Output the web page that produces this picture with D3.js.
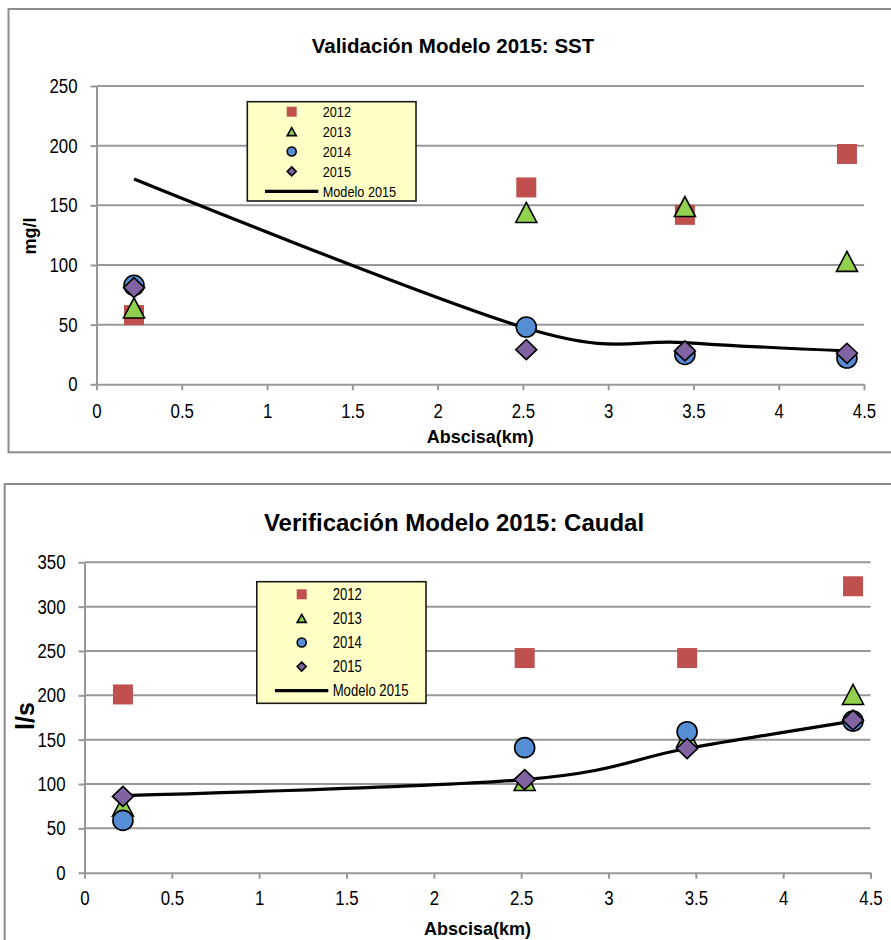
<!DOCTYPE html>
<html>
<head>
<meta charset="utf-8">
<script src="https://cdn.jsdelivr.net/npm/d3@7"></script>
<style>
  body { margin: 0; background: #ffffff; }
  svg { display: block; }
</style>
</head>
<body>
<svg id="fig" width="891" height="940"></svg>
<script>
// ---- data ---------------------------------------------------------------
const abscisa = [0.22, 2.52, 3.45, 4.40];          // km
const years = ["2012", "2013", "2014", "2015"];
const modelLabel = "Modelo 2015";
const xTicks = [0, 0.5, 1, 1.5, 2, 2.5, 3, 3.5, 4, 4.5];

// SST (mg/l)
const sst2012 = [58, 165, 142, 193];
const sst2013 = [64, 144, 149, 103];
const sst2014 = [83, 48, 25, 22];
const sst2015 = [81, 29, 28, 26];
const sstModelo = [172, 47, 35, 28];
const sstTicks = [0, 50, 100, 150, 200, 250];

// Caudal (l/s)
const caudal2012 = [201, 242, 242, 323];
const caudal2013 = [75, 104, 153, 201];
const caudal2014 = [59, 141, 159, 171];
const caudal2015 = [86, 105, 140, 172];
const caudalModelo = [87, 105, 140, 171];
const caudalTicks = [0, 50, 100, 150, 200, 250, 300, 350];

// ---- styles -------------------------------------------------------------
const NARROW = "'Liberation Sans Narrow','Arial Narrow','Liberation Sans',Arial,sans-serif";
const SANS = "'Liberation Sans',Arial,Helvetica,sans-serif";
const NARROW_K = 0.82;   // narrow face width relative to the regular face
const GRID = "#989898";
const FRAME = "#8c8c8c";
const seriesStyle = [
  { shape: "square",   fill: "#C0504D", stroke: "none" },
  { shape: "triangle", fill: "#92D050", stroke: "#000" },
  { shape: "circle",   fill: "#558ED5", stroke: "#000" },
  { shape: "diamond",  fill: "#8064A2", stroke: "#000" }
];

// condense text horizontally when no narrow face is installed
function narrow(sel) {
  sel.each(function () {
    const w = this.getComputedTextLength();
    const probe = document.createElementNS("http://www.w3.org/2000/svg", "text");
    probe.setAttribute("font-family", "'Liberation Sans'");
    probe.setAttribute("font-size", this.getAttribute("font-size") || "16");
    probe.textContent = this.textContent;
    this.parentNode.appendChild(probe);
    const wRegular = probe.getComputedTextLength();
    probe.remove();
    // if the rendered width equals the regular face, the narrow face is missing
    if (Math.abs(w - wRegular) < 0.5) {
      d3.select(this).attr("textLength", w * NARROW_K).attr("lengthAdjust", "spacingAndGlyphs");
    }
  });
}

// marker outline centred on (0,0), w x h box
function markerPath(shape, w, h) {
  const a = w / 2, b = h / 2;
  switch (shape) {
    case "square":   return `M${-a},${-b}H${a}V${b}H${-a}Z`;
    case "triangle": return `M0,${-b}L${a},${b}L${-a},${b}Z`;
    case "diamond":  return `M0,${-b}L${a},0L0,${b}L${-a},0Z`;
    default: {
      const p = d3.path(); p.arc(0, 0, a, 0, 2 * Math.PI); return p.toString();
    }
  }
}

const svg = d3.select("#fig");

function drawChart(cfg) {
  const g = svg.append("g");

  // outer frame
  g.append("rect")
    .attr("x", cfg.frame[0]).attr("y", cfg.frame[1])
    .attr("width", cfg.frame[2]).attr("height", cfg.frame[3])
    .attr("fill", "#fff").attr("stroke", FRAME).attr("stroke-width", 2);

  const x = d3.scaleLinear().domain([0, 4.5]).range([cfg.left, cfg.right]);
  const y = d3.scaleLinear().domain([0, cfg.ymax]).range([cfg.bottom, cfg.top]);

  // horizontal gridlines
  g.append("g").selectAll("line").data(cfg.yTicks.filter(d => d > 0)).join("line")
    .attr("x1", cfg.left).attr("x2", cfg.right)
    .attr("y1", d => y(d)).attr("y2", d => y(d))
    .attr("stroke", GRID).attr("stroke-width", 2);

  // axes
  const yAxis = g.append("g").attr("transform", `translate(${cfg.left},0)`)
    .call(d3.axisLeft(y).tickValues(cfg.yTicks).tickSize(6).tickSizeOuter(0).tickPadding(13)
      .tickFormat(d3.format("d")));
  const xAxis = g.append("g").attr("transform", `translate(0,${cfg.bottom})`)
    .call(d3.axisBottom(x).tickValues(xTicks).tickSize(6).tickSizeOuter(0).tickPadding(cfg.xPad)
      .tickFormat(d => String(d)));
  [yAxis, xAxis].forEach(a => {
    a.select(".domain").attr("stroke", GRID).attr("stroke-width", 2);
    a.selectAll(".tick line").attr("stroke", GRID).attr("stroke-width", 2);
    a.selectAll(".tick text").attr("fill", "#000")
      .attr("font-family", NARROW).attr("font-size", cfg.tickFont)
      .call(narrow);
  });

  // model line (smoothed)
  const line = d3.line().x(d => x(d[0])).y(d => y(d[1])).curve(d3.curveCardinal.tension(0));
  g.append("path")
    .datum(abscisa.map((a, i) => [a, cfg.model[i]]))
    .attr("d", line).attr("fill", "none")
    .attr("stroke", "#000").attr("stroke-width", 3.2).attr("stroke-linejoin", "round");

  // measured series
  cfg.series.forEach((vals, si) => {
    const st = seriesStyle[si];
    const w = st.shape === "square" || st.shape === "circle" ? 20 : 21;
    const h = 20;
    g.append("g").selectAll("path").data(abscisa.map((a, i) => [a, vals[i]])).join("path")
      .attr("transform", d => `translate(${x(d[0])},${y(d[1])})`)
      .attr("d", markerPath(st.shape, w, h))
      .attr("fill", st.fill).attr("stroke", st.stroke).attr("stroke-width", 1.6)
      .attr("stroke-linejoin", "miter");
  });

  // titles
  g.append("text").attr("x", cfg.titlePos[0]).attr("y", cfg.titlePos[1])
    .attr("text-anchor", "middle").attr("font-family", SANS).attr("font-weight", "bold")
    .attr("font-size", cfg.titleFont).text(cfg.title);
  g.append("text").attr("x", (cfg.left + cfg.right) / 2).attr("y", cfg.xLabelY)
    .attr("text-anchor", "middle").attr("font-family", SANS).attr("font-weight", "bold")
    .attr("font-size", cfg.xLabelFont).text("Abscisa(km)");
  g.append("text")
    .attr("transform", `translate(${cfg.yLabelPos[0]},${cfg.yLabelPos[1]}) rotate(-90)`)
    .attr("text-anchor", "middle").attr("font-family", SANS).attr("font-weight", "bold")
    .attr("font-size", cfg.yLabelFont).text(cfg.yLabel);

  // legend
  const L = cfg.legend;
  const lg = g.append("g").attr("transform", `translate(${L.x},${L.y})`);
  lg.append("rect").attr("width", L.w).attr("height", L.h)
    .attr("fill", "#FFFFC6").attr("stroke", "#1a1a1a").attr("stroke-width", 1.6);
  const labels = years.concat([modelLabel]);
  labels.forEach((lab, i) => {
    const cy = L.row0 + i * L.step;
    if (i < 4) {
      const st = seriesStyle[i];
      const mw = st.shape === "square" ? 10 : 9;
      const mh = st.shape === "square" ? 10 : (st.shape === "triangle" ? 8 : 9);
      lg.append("path").attr("transform", `translate(${L.mx},${cy})`)
        .attr("d", markerPath(st.shape, mw, mh))
        .attr("fill", st.fill).attr("stroke", st.stroke).attr("stroke-width", 1.6);
    } else {
      lg.append("line").attr("x1", L.lx0).attr("x2", L.lx1).attr("y1", cy).attr("y2", cy)
        .attr("stroke", "#000").attr("stroke-width", 3.2);
    }
    lg.append("text").attr("x", L.tx).attr("y", cy).attr("dy", "0.36em")
      .attr("font-family", NARROW).attr("font-size", L.font).text(lab)
      .call(narrow);
  });
}

drawChart({
  frame: [8.5, 9, 900, 443.3],
  left: 96.5, right: 864, top: 86, bottom: 384.3, ymax: 250,
  yTicks: sstTicks, xPad: 13, tickFont: 20.5,
  model: sstModelo, series: [sst2012, sst2013, sst2014, sst2015],
  title: "Validación Modelo 2015: SST", titlePos: [453, 53.3], titleFont: 20.5,
  xLabelY: 443, xLabelFont: 18,
  yLabel: "mg/l", yLabelPos: [36, 236], yLabelFont: 18,
  legend: { x: 247.3, y: 101.7, w: 168.7, h: 99.3, row0: 10, step: 19.9,
            mx: 44.4, tx: 75.4, lx0: 17.7, lx1: 71, font: 15.5 }
});

drawChart({
  frame: [4.7, 484, 900, 500],
  left: 84.5, right: 870.5, top: 562.3, bottom: 872.7, ymax: 350,
  yTicks: caudalTicks, xPad: 12, tickFont: 20.5,
  model: caudalModelo, series: [caudal2012, caudal2013, caudal2014, caudal2015],
  title: "Verificación Modelo 2015: Caudal", titlePos: [454, 530.7], titleFont: 24,
  xLabelY: 935, xLabelFont: 18,
  yLabel: "l/s", yLabelPos: [34, 716], yLabelFont: 25,
  legend: { x: 256.8, y: 581.7, w: 169.2, h: 121.6, row0: 12.6, step: 24.1,
            mx: 44.9, tx: 75.9, lx0: 18.2, lx1: 71.5, font: 16 }
});
</script>
</body>
</html>
